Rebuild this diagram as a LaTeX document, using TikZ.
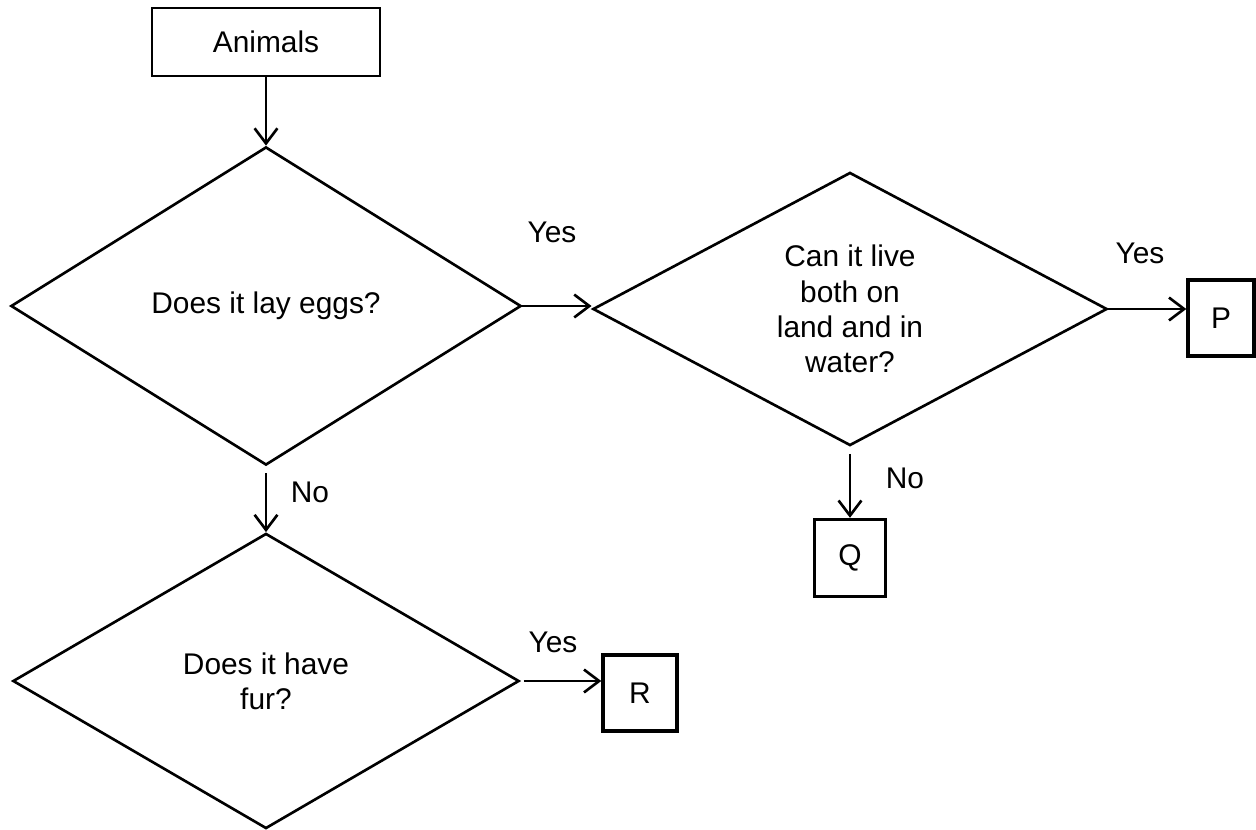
\documentclass[tikz,border=0pt]{standalone}
\usepackage{fontspec}
\setmainfont{Liberation Sans}
\usetikzlibrary{shapes.geometric, arrows.meta}

\begin{document}
\begin{tikzpicture}[x=0.01cm, y=-0.01cm,
    every node/.style={font=\fontsize{8.5}{10}\selectfont},
    box/.style={draw, line width=0.95pt, inner sep=0pt},
    question/.style={draw, diamond, shape aspect=1.8, line width=0.75pt, inner sep=0pt, align=center},
    arr/.style={line width=0.75pt, -{Straight Barb[length=4.3pt, width=6.5pt]}}]
  %tikz  animals, flow chart
    \useasboundingbox (0,0) rectangle (1256,830);
    \node[box, line width=0.75pt, minimum width=2.28cm, minimum height=0.68cm] (animals) at (266,42) {Animals};
    \node[question, minimum width=5.10cm, minimum height=3.18cm] (eggs) at (266,306) {Does it lay eggs?};
    \node[question, minimum width=5.14cm, minimum height=2.73cm] (amph) at (850,309) {Can it live\\both on\\land and in\\water?};
    \node[question, minimum width=5.06cm, minimum height=2.95cm] (fur) at (266,681) {Does it have\\fur?};
    \node[box, minimum width=0.66cm, minimum height=0.76cm] (P) at (1221,318) {P};
    \node[box, minimum width=0.71cm, minimum height=0.77cm] (Q) at (850,558) {Q};
    \node[box, minimum width=0.74cm, minimum height=0.76cm] (R) at (640,693) {R};
    \draw[arr] (animals.south) -- (eggs.north);
    \draw[arr] (eggs.east) -- (eggs.east -| amph.west);
    \draw[arr] (amph.east) -- (amph.east -| P.west);
    \draw[arr, shorten <=2pt] (amph.south) -- (Q.north);
    \draw[arr, shorten <=2pt] (eggs.south) -- (fur.north);
    \draw[arr, shorten <=1pt] (fur.east) -- (fur.east -| R.west);
    \node (yes1) at (552,232) {Yes};
    \node (yes2) at (1140,253) {Yes};
    \node (yes3) at (553,642) {Yes};
    \node (no1) at (310,492) {No};
    \node (no2) at (905,478) {No};
  \end{tikzpicture}
\end{document}
